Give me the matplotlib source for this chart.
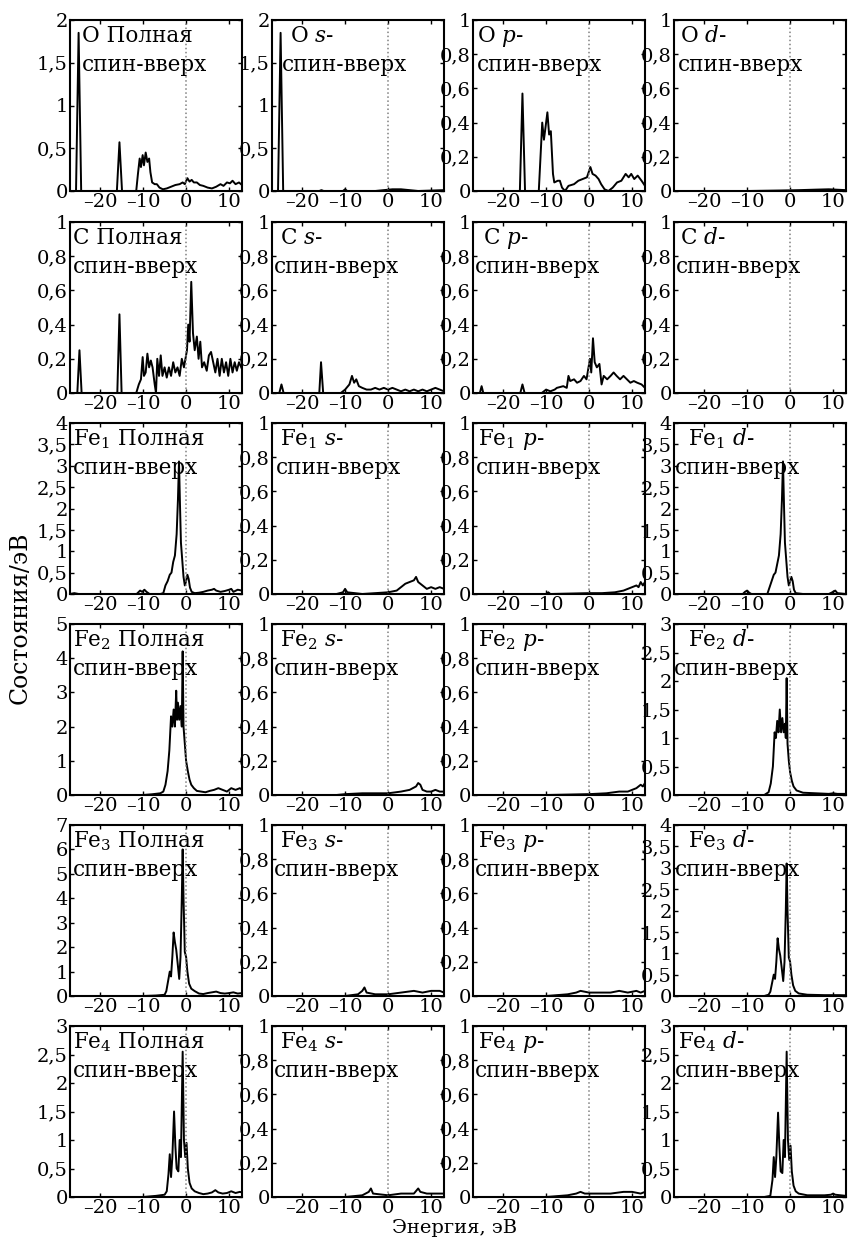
import numpy as np
import matplotlib
matplotlib.use("Agg")
import matplotlib.pyplot as plt
from matplotlib.ticker import MultipleLocator, FuncFormatter

plt.rcParams['font.family'] = ['DejaVu Serif']
plt.rcParams['mathtext.fontset'] = 'dejavuserif'

# (energy, eV ; states/eV) points, spin up
o_tot = [(-27, 0), (-25.6, 0), (-25.0, 1.85), (-24.4, 0), (-16.1, 0), (-15.5, 0.57), (-14.9, 0),
         (-11.6, 0), (-11.2, 0.2), (-10.8, 0.38), (-10.5, 0.28), (-10.1, 0.42), (-9.8, 0.3),
         (-9.4, 0.45), (-9.0, 0.34), (-8.6, 0.38), (-8.3, 0.22), (-7.9, 0.1), (-7.3, 0.08),
         (-6.8, 0.08), (-6.2, 0.04), (-5.4, 0.02), (-4.5, 0.03), (-3.5, 0.05), (-2.5, 0.07),
         (-1.5, 0.08), (-0.8, 0.1), (-0.3, 0.08), (0.3, 0.15), (0.8, 0.11), (1.3, 0.13),
         (1.8, 0.1), (2.5, 0.1), (3.2, 0.07), (4.0, 0.06), (5.0, 0.04), (6.0, 0.03), (7.0, 0.05),
         (8.0, 0.08), (8.7, 0.06), (9.5, 0.1), (10.2, 0.09), (10.8, 0.12), (11.5, 0.08),
         (12.3, 0.1), (13, 0.07)]
o_s = [(-27, 0), (-25.6, 0), (-25.0, 1.85), (-24.4, 0), (-16, 0), (-15.5, 0.01), (-15, 0),
       (-10.5, 0), (-10, 0.02), (-9.5, 0), (-3, 0), (-1, 0.01), (1, 0.02), (3, 0.02), (5, 0.01),
       (7, 0.0), (13, 0.01)]
o_p = [(-27, 0), (-16.1, 0), (-15.5, 0.57), (-14.9, 0), (-11.7, 0), (-11.3, 0.2), (-10.9, 0.40),
       (-10.5, 0.3), (-10.1, 0.38), (-9.7, 0.46), (-9.3, 0.33), (-8.9, 0.35), (-8.4, 0.1),
       (-8.1, 0.05), (-7.3, 0.06), (-6.8, 0.06), (-6.3, 0.02), (-5.6, 0.0), (-4.8, 0.03),
       (-3.5, 0.04), (-2.5, 0.06), (-1.5, 0.07), (-0.5, 0.08), (0.3, 0.14), (0.8, 0.1),
       (1.5, 0.09), (2.2, 0.07), (2.8, 0.04), (3.6, 0.01), (4.5, 0.0), (5.5, 0.02), (6.5, 0.05),
       (7.5, 0.06), (8.5, 0.1), (9.2, 0.08), (9.8, 0.1), (10.5, 0.07), (11.3, 0.09),
       (12.2, 0.06), (13, 0.03)]
o_d = [(-27, 0), (-10, 0), (-2, 0.003), (2, 0.005), (6, 0.008), (9, 0.01), (13, 0.005)]

c_tot = [(-27, 0), (-25.3, 0), (-24.8, 0.25), (-24.3, 0), (-16, 0), (-15.5, 0.46), (-15, 0),
         (-11.6, 0), (-11, 0.05), (-10.5, 0.08), (-10.1, 0.21), (-9.8, 0.1), (-9.4, 0.12),
         (-9.0, 0.23), (-8.6, 0.15), (-8.2, 0.19), (-7.8, 0.15), (-7.3, 0.05), (-7, 0.0),
         (-6.7, 0.2), (-6.3, 0.1), (-5.9, 0.22), (-5.5, 0.1), (-5, 0.15), (-4.5, 0.09),
         (-4, 0.15), (-3.5, 0.1), (-3, 0.18), (-2.5, 0.12), (-2, 0.15), (-1.5, 0.1), (-1, 0.2),
         (-0.5, 0.15), (0.2, 0.25), (0.5, 0.4), (0.8, 0.3), (1.2, 0.65), (1.6, 0.35), (2.0, 0.25),
         (2.5, 0.33), (2.9, 0.2), (3.3, 0.3), (3.7, 0.15), (4.2, 0.18), (4.8, 0.13), (5.3, 0.22),
         (5.8, 0.24), (6.3, 0.18), (6.8, 0.12), (7.3, 0.2), (7.8, 0.1), (8.3, 0.2), (8.8, 0.12),
         (9.3, 0.18), (9.8, 0.1), (10.3, 0.2), (10.8, 0.12), (11.3, 0.18), (11.8, 0.13),
         (12.3, 0.18), (13, 0.14)]
c_s = [(-27, 0), (-25.3, 0), (-24.8, 0.05), (-24.3, 0), (-16, 0), (-15.6, 0.18), (-15.1, 0),
       (-11, 0), (-10, 0.02), (-9, 0.05), (-8.4, 0.1), (-7.9, 0.06), (-7.4, 0.08), (-6.8, 0.04),
       (-6, 0.03), (-5, 0.02), (-4, 0.02), (-3, 0.03), (-2, 0.02), (-1, 0.03), (0, 0.02),
       (1, 0.03), (2, 0.02), (3, 0.01), (4, 0.02), (5, 0.01), (6, 0.02), (7, 0.01), (8, 0.02),
       (9, 0.01), (10, 0.02), (11, 0.03), (12, 0.02), (13, 0.01)]
c_p = [(-27, 0), (-25.4, 0), (-25.0, 0.04), (-24.6, 0), (-16, 0), (-15.5, 0.05), (-15, 0),
       (-11, 0), (-10, 0.02), (-9, 0.01), (-8, 0.02), (-7.5, 0.03), (-6, 0.04), (-5.2, 0.03),
       (-4.8, 0.1), (-4.4, 0.07), (-3.5, 0.08), (-2.8, 0.06), (-2, 0.07), (-1.2, 0.1),
       (-0.6, 0.08), (0.2, 0.2), (0.5, 0.12), (0.9, 0.32), (1.3, 0.18), (1.8, 0.15), (2.4, 0.17),
       (2.9, 0.05), (3.4, 0.1), (4.2, 0.08), (5.0, 0.1), (5.7, 0.12), (6.4, 0.1), (7.2, 0.08),
       (8.0, 0.1), (8.8, 0.08), (9.6, 0.06), (10.4, 0.07), (11.2, 0.06), (12.2, 0.05), (13, 0.03)]
c_d = [(-27, 0), (13, 0)]

fe1_tot = [(-27, 0), (-26, 0.02), (-25, 0), (-11.5, 0), (-10.7, 0.08), (-10.2, 0.05), (-9.7, 0.1),
           (-9.2, 0.05), (-8.5, 0), (-6, 0), (-5.3, 0.02), (-4.8, 0.2), (-4.3, 0.3), (-3.8, 0.45),
           (-3.4, 0.5), (-3.0, 0.75), (-2.6, 0.9), (-2.2, 1.4), (-1.9, 2.2), (-1.65, 3.1),
           (-1.4, 2.0), (-1.2, 1.2), (-0.9, 0.8), (-0.6, 0.4), (-0.3, 0.2), (0.0, 0.3), (0.3, 0.45),
           (0.6, 0.35), (0.9, 0.15), (1.3, 0.05), (2, 0.02), (3, 0.03), (4, 0.05), (5, 0.08),
           (6, 0.1), (6.5, 0.12), (7, 0.08), (8, 0.05), (9, 0.07), (10, 0.1), (10.5, 0.12),
           (11, 0.05), (12, 0.1), (13, 0.08)]
fe1_s = [(-27, 0), (-12, 0), (-10.5, 0.01), (-10, 0.03), (-9.5, 0.01), (-6, 0), (-3, 0.005),
         (0, 0.01), (2, 0.02), (3, 0.04), (4, 0.06), (5, 0.07), (6, 0.08), (6.5, 0.1), (7, 0.07),
         (8, 0.05), (9, 0.03), (10, 0.04), (11, 0.03), (12, 0.04), (13, 0.03)]
fe1_p = [(-27, 0), (-10, 0), (-9.5, 0.01), (-9, 0), (0, 0.005), (3, 0.005), (6, 0.01), (8, 0.02),
         (9, 0.03), (10, 0.04), (11, 0.05), (11.5, 0.04), (12, 0.07), (12.5, 0.05), (13, 0.07)]
fe1_d = [(-27, 0), (-11, 0), (-10.5, 0.05), (-10, 0.08), (-9.5, 0.03), (-9, 0), (-5.3, 0),
         (-4.8, 0.15), (-4.3, 0.3), (-3.8, 0.45), (-3.4, 0.5), (-3, 0.7), (-2.6, 0.9), (-2.2, 1.4),
         (-1.9, 2.2), (-1.65, 3.1), (-1.4, 2.0), (-1.2, 1.2), (-0.9, 0.8), (-0.6, 0.4),
         (-0.3, 0.2), (0, 0.3), (0.3, 0.4), (0.6, 0.3), (0.9, 0.1), (1.3, 0.02), (3, 0.0),
         (9, 0.0), (10, 0.05), (10.5, 0.08), (11, 0.02), (13, 0)]

fe2_tot = [(-27, 0), (-10, 0), (-8, 0.02), (-6, 0.05), (-5.3, 0.1), (-4.8, 0.3), (-4.3, 0.7),
           (-3.9, 1.3), (-3.5, 2.3), (-3.2, 2.0), (-2.9, 2.5), (-2.6, 2.0), (-2.3, 3.05),
           (-2.1, 2.2), (-1.9, 2.7), (-1.6, 2.2), (-1.3, 2.6), (-1.0, 2.0), (-0.8, 4.2),
           (-0.6, 2.0), (-0.3, 1.5), (0, 1.0), (0.4, 0.7), (0.8, 0.45), (1.2, 0.3), (1.8, 0.2),
           (2.5, 0.12), (3.5, 0.1), (4.5, 0.08), (5.5, 0.12), (6.5, 0.15), (7.5, 0.2), (8.5, 0.15),
           (9.5, 0.1), (10.5, 0.2), (11.5, 0.15), (12.5, 0.2), (13, 0.15)]
fe2_s = [(-27, 0), (-12, 0), (-10, 0.005), (-6, 0.01), (-3, 0.01), (0, 0.01), (3, 0.02),
         (5, 0.03), (6.5, 0.05), (7, 0.07), (7.5, 0.06), (8, 0.03), (9, 0.02), (10, 0.02),
         (11, 0.03), (12, 0.02), (13, 0.02)]
fe2_p = [(-27, 0), (-10, 0), (0, 0.005), (4, 0.01), (7, 0.02), (9, 0.02), (10, 0.03), (11, 0.04),
         (12, 0.06), (12.5, 0.05), (13, 0.07)]
fe2_d = [(-27, 0), (-6, 0), (-5, 0.05), (-4.5, 0.2), (-4, 0.5), (-3.6, 1.1), (-3.3, 1.0),
         (-3.0, 1.3), (-2.7, 1.1), (-2.4, 1.5), (-2.1, 1.1), (-1.8, 1.35), (-1.5, 1.1),
         (-1.2, 1.25), (-1.0, 1.0), (-0.8, 2.05), (-0.6, 0.9), (-0.3, 0.6), (0, 0.4), (0.4, 0.25),
         (0.8, 0.15), (1.5, 0.08), (3, 0.04), (6, 0.03), (9, 0.02), (10, 0.03), (11, 0.02),
         (13, 0.02)]

fe3_tot = [(-27, 0), (-10, 0), (-7, 0.02), (-5, 0.05), (-4.6, 0.2), (-4.2, 0.6), (-3.8, 1.0),
           (-3.5, 0.8), (-3.2, 1.6), (-2.9, 2.6), (-2.6, 2.2), (-2.3, 1.9), (-2.0, 1.4),
           (-1.6, 0.7), (-1.3, 1.6), (-1.0, 4.0), (-0.8, 6.0), (-0.6, 4.0), (-0.3, 1.8),
           (0, 1.6), (0.3, 1.0), (0.7, 0.5), (1.2, 0.3), (2, 0.2), (3, 0.1), (4, 0.08), (5, 0.12),
           (6, 0.15), (7, 0.18), (8, 0.12), (9, 0.1), (10, 0.12), (11, 0.15), (12, 0.1),
           (13, 0.12)]
fe3_s = [(-27, 0), (-10, 0), (-7, 0.01), (-6, 0.03), (-5.5, 0.05), (-5, 0.02), (-3, 0.01),
         (0, 0.01), (3, 0.02), (6, 0.03), (8, 0.02), (10, 0.03), (12, 0.03), (13, 0.02)]
fe3_p = [(-27, 0), (-10, 0), (-5, 0.01), (-3, 0.02), (-2, 0.03), (0, 0.02), (3, 0.02),
         (5, 0.02), (7, 0.03), (9, 0.02), (11, 0.03), (12, 0.02), (13, 0.03)]
fe3_d = [(-27, 0), (-6, 0), (-5, 0.03), (-4.6, 0.1), (-4.2, 0.3), (-3.8, 0.5), (-3.5, 0.4),
         (-3.2, 0.8), (-2.9, 1.35), (-2.6, 1.1), (-2.3, 0.95), (-2.0, 0.7), (-1.6, 0.35),
         (-1.3, 0.8), (-1.0, 2.0), (-0.8, 3.1), (-0.6, 2.0), (-0.3, 0.9), (0, 0.8), (0.3, 0.5),
         (0.7, 0.25), (1.2, 0.12), (2, 0.06), (4, 0.03), (8, 0.02), (13, 0.02)]

fe4_tot = [(-27, 0), (-10, 0), (-7, 0.02), (-5, 0.04), (-4.5, 0.1), (-4.1, 0.4), (-3.8, 0.75),
           (-3.5, 0.35), (-3.2, 0.7), (-2.8, 1.5), (-2.5, 0.9), (-2.2, 0.5), (-1.8, 0.45),
           (-1.5, 1.0), (-1.2, 0.7), (-0.8, 2.55), (-0.5, 1.0), (-0.2, 0.7), (0.1, 0.95),
           (0.4, 0.5), (0.8, 0.25), (1.3, 0.15), (2, 0.1), (3, 0.07), (4, 0.05), (5, 0.06),
           (6, 0.08), (6.8, 0.12), (7.5, 0.08), (8.5, 0.06), (9.5, 0.07), (10.5, 0.1),
           (11.5, 0.07), (12.5, 0.09), (13, 0.08)]
fe4_s = [(-27, 0), (-10, 0), (-6, 0.01), (-4.5, 0.03), (-4, 0.05), (-3.5, 0.02), (0, 0.01),
         (3, 0.02), (6, 0.02), (7, 0.05), (7.5, 0.03), (9, 0.02), (11, 0.02), (13, 0.02)]
fe4_p = [(-27, 0), (-10, 0), (-5, 0.01), (-3, 0.02), (-2, 0.03), (-1, 0.02), (2, 0.02),
         (5, 0.02), (8, 0.03), (10, 0.03), (12, 0.02), (13, 0.03)]
fe4_d = [(-27, 0), (-6, 0), (-4.6, 0.02), (-4.1, 0.3), (-3.8, 0.7), (-3.5, 0.35), (-3.2, 0.7),
         (-2.8, 1.48), (-2.5, 0.9), (-2.2, 0.45), (-1.8, 0.42), (-1.5, 1.0), (-1.2, 0.7),
         (-0.8, 2.55), (-0.5, 1.0), (-0.2, 0.65), (0.1, 0.9), (0.4, 0.45), (0.8, 0.2),
         (1.3, 0.1), (2, 0.06), (4, 0.03), (8, 0.03), (9.5, 0.04), (10, 0.06), (10.5, 0.04),
         (13, 0.02)]

atoms = ['O', 'C', 'Fe$_1$', 'Fe$_2$', 'Fe$_3$', 'Fe$_4$']
orbitals = ['Полная', '$s$-', '$p$-', '$d$-']
curves = [[o_tot, o_s, o_p, o_d],
          [c_tot, c_s, c_p, c_d],
          [fe1_tot, fe1_s, fe1_p, fe1_d],
          [fe2_tot, fe2_s, fe2_p, fe2_d],
          [fe3_tot, fe3_s, fe3_p, fe3_d],
          [fe4_tot, fe4_s, fe4_p, fe4_d]]
# (ymax, tick step) for every panel
ylims = [[(2, 0.5), (2, 0.5), (1, 0.2), (1, 0.2)],
         [(1, 0.2), (1, 0.2), (1, 0.2), (1, 0.2)],
         [(4, 0.5), (1, 0.2), (1, 0.2), (4, 0.5)],
         [(5, 1), (1, 0.2), (1, 0.2), (3, 0.5)],
         [(7, 1), (1, 0.2), (1, 0.2), (4, 0.5)],
         [(3, 0.5), (1, 0.2), (1, 0.2), (3, 0.5)]]
xticks = [-20, -10, 0, 10]

# label offsets from the left spine in px: (first line, second line)
label_dx = [[(12, 12), (18, 10), (4, 4), (6, 4)],
            [(3, 3), (8, 2), (10, 2), (6, 2)],
            [(3, 3), (8, 4), (5, 3), (14, 1)],
            [(3, 3), (8, 2), (5, 2), (14, 0)],
            [(3, 3), (8, 2), (5, 2), (14, 1)],
            [(3, 3), (8, 2), (5, 2), (4, 1)]]


def comma(v, pos):
    s = '%g' % round(v, 3)
    return s.replace('.', ',').replace('-', '\u2013')


W, H = 850, 1241
fig = plt.figure(figsize=(W / 100, H / 100), dpi=100)
col_left = [70, 272, 473, 674]
row_top = [20, 222, 423, 624, 825, 1026]
aw, ah = 172, 171

for r in range(6):
    for c in range(4):
        ax = fig.add_axes([col_left[c] / W, 1 - (row_top[r] + ah) / H, aw / W, ah / H])
        e, d = zip(*curves[r][c])
        ax.plot(e, d, color='black', lw=1.4)
        ax.axvline(0, color='gray', ls=':', lw=1.1)
        ymax, step = ylims[r][c]
        ax.set_xlim(-27, 13)
        ax.set_ylim(0, ymax)
        ax.set_xticks(xticks)
        ax.yaxis.set_major_locator(MultipleLocator(step))
        ax.xaxis.set_major_formatter(FuncFormatter(comma))
        ax.yaxis.set_major_formatter(FuncFormatter(comma))
        ax.tick_params(direction='in', top=True, right=True, length=3, width=1,
                       labelsize=14, pad=1.5)
        for sp in ax.spines.values():
            sp.set_linewidth(1.5)
        dx1, dx2 = label_dx[r][c]
        ax.text(dx1 / aw, 0.87, atoms[r] + ' ' + orbitals[c], transform=ax.transAxes,
                fontsize=15.5, va='baseline', ha='left')
        ax.text(dx2 / aw, 0.70, 'спин-вверх', transform=ax.transAxes,
                fontsize=15.5, va='baseline', ha='left')

fig.text(20 / W, 1 - 618 / H, 'Состояния/эВ', rotation=90, va='center', ha='center',
         fontsize=17)
fig.text(455 / W, 1 - 1228 / H, 'Энергия, эВ', va='center', ha='center', fontsize=14)

fig.savefig('out.png', dpi=100)
